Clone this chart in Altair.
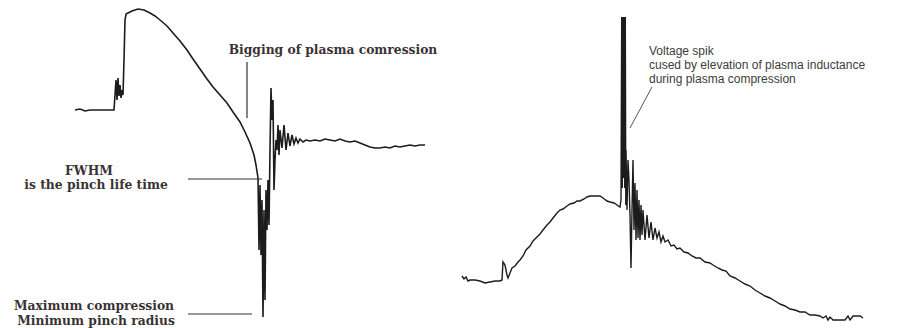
import altair as alt
import pandas as pd

# Current-derivative trace (dI/dt) of the plasma focus discharge
di_t = [75, 80, 85, 90, 100, 110, 114, 115, 116, 117, 118, 119, 120, 121, 122, 123, 124, 125, 126, 128,
        132, 138, 144, 150, 155, 160, 167, 173, 180, 187, 193, 200, 207, 213, 220, 227, 233, 240, 245, 250,
        254, 256, 258, 259, 260, 261, 262, 263, 264, 265, 266, 267, 268, 269, 270, 271, 272, 273, 274, 275,
        276, 277, 278, 279, 280, 282, 284, 286, 288, 290, 292, 294, 296, 298, 300, 303, 306, 310, 315, 320,
        325, 330, 335, 340, 345, 350, 355, 360, 365, 370, 375, 380, 385, 390, 395, 400, 405, 410, 415, 420, 425]
di_v = [218, 219, 217, 218, 218, 218, 218, 233, 248, 228, 250, 232, 243, 230, 238, 233, 268, 308, 314, 315,
        317, 319, 318, 315, 312, 308, 302, 295, 287, 278, 269, 259, 249, 241, 233, 225, 216, 206, 196, 185,
        173, 163, 150, 78, 143, 73, 128, 11, 118, 28, 138, 98, 148, 103, 178, 240, 208, 228, 138, 168,
        188, 178, 203, 173, 198, 180, 203, 178, 195, 182, 193, 184, 190, 185, 189, 186, 188, 187, 188, 187,
        189, 188, 187, 189, 187, 186, 187, 185, 183, 181, 180, 180, 181, 180, 182, 181, 182, 183, 182, 183, 183]

# Voltage-probe trace (dense samples through the spike)
vp_t = [462, 464, 466, 468, 470, 475, 480, 485, 490, 495, 500, 502, 503, 505, 507, 508, 510, 512, 515, 518,
        520, 523, 526, 530, 533, 537, 540, 543, 547, 550, 553, 557, 560, 563, 567, 570, 574, 577, 580, 584,
        587, 590, 595, 600, 603, 607, 610, 614, 617, 620, 621,
        621.7, 622.3, 622.9, 623.5, 624.1, 624.7, 625.3, 625.8,
        626, 627, 628, 629, 630,
        631, 632, 633, 634, 635, 636, 637, 638, 639, 640, 641, 642, 643, 645, 647, 649, 651, 653, 655, 657,
        659, 661, 663, 665, 668, 671, 674, 677, 680, 684, 688, 692, 696, 700, 705, 710, 713, 718, 722, 726,
        730, 735, 740, 745, 750, 755, 760, 765, 770, 775, 780, 785, 790, 795, 800, 805, 810, 815, 820, 823,
        826, 828, 830, 833, 840, 845, 848, 850, 853, 856, 860, 863]
vp_v = [52, 49, 51, 47, 48, 48, 47, 45, 46, 47, 47, 48, 66, 63, 53, 50, 55, 60, 62, 66,
        68, 72, 78, 82, 87, 91, 94, 98, 103, 106, 110, 115, 118, 119, 122, 124, 125, 127, 127, 129,
        131, 132, 132, 132, 130, 127, 126, 125, 123, 121, 128,
        311, 140, 311, 150, 311, 140, 311, 123,
        178, 118, 168, 148, 113,
        60, 118, 168, 98, 145, 88, 138, 90, 128, 88, 123, 93, 118, 88, 113, 90, 106, 88, 100, 90,
        96, 86, 92, 86, 88, 82, 83, 79, 80, 76, 75, 72, 70, 70, 66, 65, 63, 60, 58, 57,
        52, 50, 47, 44, 42, 38, 35, 32, 30, 27, 24, 22, 19, 18, 16, 16, 13, 13, 12, 10,
        12, 8, 11, 8, 8, 8, 12, 8, 12, 12, 12, 10]

# Annotations on the current trace (centre of each text line)
serif_labels = ["Bigging of plasma comression", "FWHM", "is the pinch life time",
                "Maximum compression", "Minimum pinch radius"]
serif_t = [333, 89, 96, 94, 96]
serif_v = [278, 157, 143, 22, 7]

# Annotation on the voltage trace (left edge of each text line)
sans_labels = ["Voltage spik", "cused by elevation of plasma inductance", "during plasma compression"]
sans_t = [649, 649, 649]
sans_v = [277, 263, 249]

# Leader lines (start and end points)
lead_t = [247, 188, 188]
lead_v = [266, 149, 14]
lead_t2 = [247, 262, 252]
lead_v2 = [210, 149, 14]
vlead_t, vlead_v, vlead_t2, vlead_v2 = [652], [241], [630], [200]

xs = alt.Scale(domain=[0, 908], nice=False, zero=False)
ys = alt.Scale(domain=[0, 328], nice=False, zero=False)

di = pd.DataFrame({"t": di_t, "v": di_v})
vp = pd.DataFrame({"t": vp_t, "v": vp_v})
serif_df = pd.DataFrame({"label": serif_labels, "t": serif_t, "v": serif_v})
sans_df = pd.DataFrame({"label": sans_labels, "t": sans_t, "v": sans_v})
lead_df = pd.DataFrame({"t": lead_t, "v": lead_v, "t2": lead_t2, "v2": lead_v2})
vlead_df = pd.DataFrame({"t": vlead_t, "v": vlead_v, "t2": vlead_t2, "v2": vlead_v2})

X = alt.X("t:Q", scale=xs, axis=None)
Y = alt.Y("v:Q", scale=ys, axis=None)

current = alt.Chart(di).mark_line(color="#1c1c1c", strokeWidth=1.6).encode(x=X, y=Y, order="t:Q")
voltage = alt.Chart(vp).mark_line(color="#1c1c1c", strokeWidth=1.4).encode(x=X, y=Y, order="t:Q")

serif_text = alt.Chart(serif_df).mark_text(
    font="DejaVu Serif", fontSize=12.3, fontWeight="bold", color="#3a3333",
    align="center", baseline="middle").encode(x=X, y=Y, text="label:N")
sans_text = alt.Chart(sans_df).mark_text(
    font="Liberation Sans", fontSize=12, color="#3c3c3c",
    align="left", baseline="middle").encode(x=X, y=Y, text="label:N")

leaders = alt.Chart(lead_df).mark_rule(color="#333333", strokeWidth=1.2).encode(
    x=X, y=Y, x2="t2:Q", y2="v2:Q")
vleader = alt.Chart(vlead_df).mark_rule(color="#555555", strokeWidth=1).encode(
    x=X, y=Y, x2="t2:Q", y2="v2:Q")

chart = alt.layer(current, voltage, leaders, vleader, serif_text, sans_text).properties(
    width=908, height=328, padding=0, autosize="none", background="white"
).configure_view(stroke=None)

chart.save("out.html", embed_options={"renderer": "svg", "actions": False})
